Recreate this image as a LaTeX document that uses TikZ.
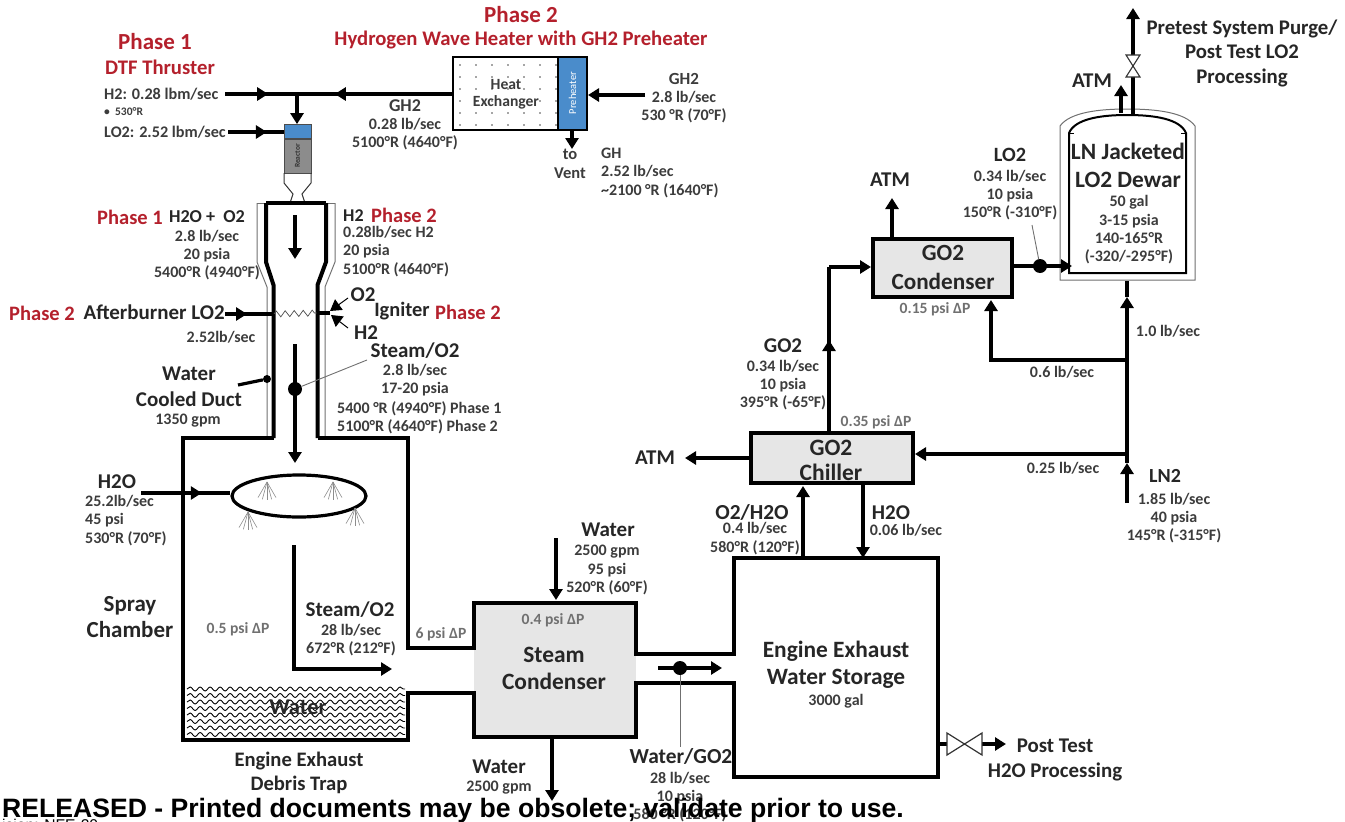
\documentclass[tikz,border=0pt]{standalone}
\usepackage{fontspec}
\setmainfont{Carlito}
\newfontfamily\footfont{Liberation Sans}
\usetikzlibrary{arrows.meta,decorations.pathmorphing,decorations.markings,shapes.geometric}
\definecolor{phasered}{HTML}{B4202C}
\definecolor{flowgray}{HTML}{3C3C3C}
\definecolor{boxgray}{HTML}{E6E6E6}
\definecolor{ductgray}{HTML}{707070}
\definecolor{burnerblue}{HTML}{4A8CCB}
\tikzset{
	pipe/.style={line width=3.2pt},
	wall/.style={line width=4pt},
	jacket/.style={line width=1pt, draw=ductgray},
	leader/.style={line width=0.9pt, draw=ductgray},
	tip/.style={-{Triangle[length=11pt,width=13pt]}},
	midtip/.style={postaction={decorate},decoration={markings,mark=at position #1 with {\arrow{Triangle[length=11pt,width=13pt]}}}},
	bigdot/.style={circle, fill=black, inner sep=0pt, minimum size=14pt},
	smalldot/.style={circle, fill=black, inner sep=0pt, minimum size=8pt},
	phase/.style={text=phasered, font=\bfseries\fontsize{23}{25}\selectfont},
	title/.style={text=phasered, font=\bfseries\fontsize{20.7}{22}\selectfont},
	tag/.style={text=black!85, font=\bfseries\fontsize{21}{26}\selectfont, align=center, inner sep=0pt},
	flow/.style={text=flowgray, font=\bfseries\fontsize{16}{18.3}\selectfont, align=center, inner sep=0pt},
	note/.style={text=ductgray, font=\bfseries\fontsize{15.6}{18}\selectfont, inner sep=0pt},
	unitbox/.style={draw=black, line width=4pt, fill=boxgray, inner sep=0pt},
	spray/.style={line width=0.6pt, draw=black!45},
}
\begin{document}
\begin{tikzpicture}[x=1pt,y=-1pt]
	\useasboundingbox (0,0) rectangle (1345,822);
	% thruster and the feed lines
	\coordinate (h2in) at (225,94);
	\coordinate (h2tee) at (297,94);
	\coordinate (lo2in) at (228,132);
	\node[draw=black!70, fill=burnerblue, line width=0.8pt, minimum width=27pt, minimum height=14pt, inner sep=0pt] (injector) at (297.5,131.5) {};
	\node[draw=black!70, fill=black!45, line width=0.8pt, minimum width=27pt, minimum height=34pt, inner sep=0pt] (reactor) at (297.5,156) {};
	\node[rotate=90, font=\bfseries\fontsize{7.5}{7.5}\selectfont, text=black!80] (reactorname) at (297.5,156) {Reactor};
	\draw[line width=1pt, black!80] (284,173) -- (284,183) -- (293,194) -- (290,203);
	\draw[line width=1pt, black!80] (311,173) -- (311,183) -- (302,194) -- (305,203);
	% heat exchanger
	\node[draw=black, line width=2pt, fill=white, minimum width=105pt, minimum height=73pt, inner sep=0pt] (exchanger) at (505.5,93.5) {};
	\foreach \row in {65,77,89,101,113,125}
		\foreach \col in {460,476,...,556}
			\fill[black!70] (\col,\row) circle (0.8pt);
	\node[font=\bfseries\fontsize{15.6}{17}\selectfont, text=flowgray, align=center] (exchangername) at (506,94) {Heat\\Exchanger};
	\node[draw=black, line width=2pt, fill=burnerblue, minimum width=29pt, minimum height=73pt, inner sep=0pt] (preheater) at (572.5,93.5) {};
	\node[rotate=90, text=white, font=\fontsize{10.5}{10.5}\selectfont] (preheatername) at (572.5,93) {Preheater};
	\coordinate (gh2in) at (645,95);
	\coordinate (vent) at (572,149);
	\draw[pipe, midtip=0.6] (h2in) -- (h2tee);
	\draw[pipe, midtip=0.756] (exchanger.west |- h2tee) -- (h2tee);
	\draw[pipe, tip] (h2tee) -- (injector.north -| h2tee);
	\draw[pipe, midtip=0.7] (lo2in) -- (injector.west |- lo2in);
	\draw[pipe, tip] (gh2in) -- (preheater.east |- gh2in);
	\draw[pipe, tip] (preheater.south -| vent) -- (vent);
	% cooled duct
	\draw[jacket] (257,203) -- (335,203);
	\draw[jacket] (257,203) -- (257,262) -- (267,287) -- (267,437);
	\draw[jacket] (335,203) -- (335,262) -- (325,287) -- (325,437);
	\draw[wall] (266,203) -- (326,203);
	\draw[wall] (266,203) -- (266,262) -- (273.5,285) -- (273.5,438);
	\draw[wall] (326,203) -- (326,262) -- (317.5,285) -- (317.5,438);
	\draw[pipe, tip] (295,215) -- (295,259);
	% afterburner and igniter
	\coordinate (burnerin) at (225,314);
	\coordinate (burnerl) at (274,314);
	\coordinate (burnerr) at (317,313);
	\coordinate (ignite) at (330,313);
	\draw[pipe, midtip=0.45] (burnerin) -- (burnerl);
	\draw[line width=0.7pt, black!70, decorate, decoration={zigzag, segment length=9pt, amplitude=3pt}] (burnerl) -- (burnerr);
	\draw[pipe] (burnerr) -- (ignite);
	\draw[line width=1pt, tip] (348,298) -- (330,311);
	\draw[line width=1pt, tip] (348,328) -- (331,315);
	% steam leg and its leaders
	\node[bigdot] (steamdot) at (295,389) {};
	\coordinate (steamtop) at (295,344);
	\coordinate (steamend) at (295,463);
	\coordinate (steamtag) at (367,360);
	\draw[pipe, tip] (steamtop) -- (steamend);
	\draw[leader] (steamdot) -- (steamtag);
	\node[smalldot] (ductdot) at (267,379) {};
	\coordinate (ducttag) at (238,385);
	\draw[pipe] (ducttag) -- (ductdot);
	% spray chamber outline with the steam condenser
	\fill[boxgray] (474,603) rectangle (636,737);
	\foreach \row in {689,695.5,...,737}
		\draw[line width=0.9pt, decorate, decoration={snake, segment length=10pt, amplitude=2pt}] (187,\row) -- (405,\row);
	\draw[wall] (273.5,438) -- (183,438) -- (183,740) -- (408,740) -- (408,693) -- (474,693) -- (474,737) -- (636,737) -- (636,683) -- (734,683) -- (734,777) -- (938,777) -- (938,558) -- (734,558) -- (734,654) -- (636,654) -- (636,603) -- (474,603) -- (474,648) -- (408,648) -- (408,438) -- (317.5,438);
	% spray ring
	\coordinate (ringin) at (141,493);
	\node[draw=black, line width=3.2pt, ellipse, minimum width=134pt, minimum height=42pt, inner sep=0pt] (ring) at (299,496) {};
	\draw[pipe, midtip=0.68] (ringin) -- (ring.west |- ringin);
	\foreach \apx/\apy in {267/482,333/482,248/512,355/508}
		\foreach \ang in {60,75,90,105,120}
			\draw[spray] (\apx,\apy) -- ++({18*cos(\ang)},{18*sin(\ang)});
	% flows through the trap and condenser
	\draw[pipe, tip] (294,545) -- (294,669) -- (392,669);
	\draw[pipe, tip] (556,538) -- (556,600);
	\draw[pipe, tip] (552,737) -- (552,801);
	\node[bigdot] (waterdot) at (680,668) {};
	\coordinate (waterin) at (658,668);
	\coordinate (waterout) at (722,668);
	\coordinate (watertag) at (680,747);
	\draw[leader] (waterdot) -- (watertag);
	\draw[pipe, tip] (waterin) -- (waterout);
	% valve to post test
	\coordinate (drain) at (938,744);
	\coordinate (drainout) at (1006,744);
	\draw[pipe] (drain) -- (947,744);
	\draw[pipe, tip] (982,744) -- (drainout);
	\draw[line width=1.2pt, black!80] (947,733) -- (982,755) -- (982,733) -- (947,755) -- cycle;
	% chiller
	\node[unitbox, minimum width=162pt, minimum height=50pt] (chiller) at (832,458) {};
	\coordinate (atmchill) at (685,458);
	\draw[pipe, tip] (chiller.west) -- (atmchill);
	\draw[pipe, tip] (803,558) -- (803,486);
	\draw[pipe, tip] (863,485) -- (863,558);
	% condenser
	\node[unitbox, minimum width=139pt, minimum height=58pt] (condenser) at (942.5,268) {};
	\coordinate (atmcond) at (892,198);
	\draw[pipe, tip] (condenser.north -| atmcond) -- (atmcond);
	\draw[pipe, midtip=0.56] (829,433) -- (829,267);
	\draw[pipe, tip] (829,267) -- (condenser.west |- 829,267);
	% dewar
	\draw[jacket, fill=white] (1060,280) -- (1060,126) .. controls (1070,112) and (1100,109) .. (1127,109) .. controls (1155,109) and (1185,112) .. (1195,126) -- (1195,280) -- cycle;
	\draw[line width=2pt] (1069,273) -- (1069,133) .. controls (1075,119) and (1100,115) .. (1127,115) .. controls (1155,115) and (1180,119) .. (1186,133) -- (1186,273) -- cycle;
	\draw[line width=1pt] (1069,133) -- (1074,133);
	\draw[line width=1pt] (1181,133) -- (1186,133);
	\node[bigdot] (lo2dot) at (1040,266) {};
	\coordinate (lo2end) at (1072,266);
	\coordinate (lo2tag) at (1032,225);
	\draw[pipe, tip] (condenser.east |- lo2end) -- (lo2end);
	\draw[leader] (lo2tag) -- (lo2dot);
	% vent lines on the dewar
	\draw[pipe, tip] (1121,113) -- (1121,85);
	\draw[pipe] (1133,115) -- (1133,77);
	\draw[pipe, tip] (1133,55) -- (1133,8);
	\draw[line width=1.1pt, black!80] (1126,55) -- (1140,55) -- (1126,77) -- (1140,77) -- cycle;
	% nitrogen feed
	\coordinate (ln2in) at (1127,503);
	\coordinate (ln2chill) at (1127,454);
	\coordinate (ln2cond) at (1127,360);
	\coordinate (ln2turn) at (991,360);
	\coordinate (ln2top) at (1127,297);
	\coordinate (ln2jacket) at (1127,281);
	\draw[pipe, tip] (ln2in) -- (1127,463);
	\draw[pipe] (1127,463) -- (ln2chill);
	\draw[pipe, tip] (ln2chill) -- (ln2top);
	\draw[pipe] (ln2top) -- (ln2jacket);
	\draw[pipe, tip] (ln2chill) -- (chiller.east |- ln2chill);
	\draw[pipe, tip] (ln2cond) -- (ln2turn) -- (991,300);
	% headings
	\node[phase] (phaseone) at (155,42) {Phase 1};
	\node[title] (dtf) at (160,67) {DTF Thruster};
	\node[phase] (phasetwo) at (521,15) {Phase 2};
	\node[title] (waveheater) at (521,40) {Hydrogen Wave Heater with GH2 Preheater};
	% labels near the thruster
	\node[flow, anchor=west, font=\bfseries\fontsize{16.2}{18}\selectfont] (h2name) at (104,94) {H2: 0.28 lbm/sec};
	\node[flow, anchor=west, font=\bfseries\fontsize{11.5}{12}\selectfont] (h2temp) at (104,112) {\textbullet\ \ 530°R};
	\node[flow, anchor=west, font=\bfseries\fontsize{16.2}{18}\selectfont] (lo2name) at (104,132) {LO2: 2.52 lbm/sec};
	\node[flow] (gh2out) at (405,125) {{\fontsize{18}{18}\selectfont GH2}\\0.28 lb/sec\\5100°R (4640°F)};
	\node[flow] (gh2feed) at (684,98) {{\fontsize{17}{18}\selectfont GH2}\\2.8 lb/sec\\530 °R (70°F)};
	\node[flow, font=\bfseries\fontsize{16.5}{18.3}\selectfont] (ventname) at (570,164) {to\\Vent};
	\node[flow, align=left, anchor=north west] (ghname) at (601,148) {GH\\2.52 lb/sec\\\textasciitilde2100 °R (1640°F)};
	% labels on the duct
	\node[phase, font=\bfseries\fontsize{20.5}{22}\selectfont] (dctone) at (130,217) {Phase 1};
	\node[tag, font=\bfseries\fontsize{18.2}{20}\selectfont] (h2oo2) at (207,217) {H2O +\ \ O2};
	\node[flow] (dctleft) at (207,255) {2.8 lb/sec\\20 psia\\5400°R (4940°F)};
	\node[tag, anchor=west, font=\bfseries\fontsize{18}{20}\selectfont] (dcth2) at (343,216) {H2};
	\node[phase, font=\bfseries\fontsize{20.5}{22}\selectfont] (dcttwo) at (404,215) {Phase 2};
	\node[flow, align=left, anchor=north west] (dctright) at (343,226) {0.28lb/sec H2\\20 psia\\5100°R (4640°F)};
	\node[phase, font=\bfseries\fontsize{20.5}{22}\selectfont] (abphase) at (42,313) {Phase 2};
	\node[tag, anchor=east] (abname) at (225,312) {Afterburner LO2};
	\node[flow] (abrate) at (221,337) {2.52lb/sec};
	\node[tag] (igo2) at (363,295) {O2};
	\node[tag] (igh2) at (366,333) {H2};
	\node[tag, font=\bfseries\fontsize{20.4}{22}\selectfont] (igname) at (402,311) {Igniter};
	\node[phase, font=\bfseries\fontsize{20.5}{22}\selectfont] (igphase) at (468,312) {Phase 2};
	\node[tag] (steamname) at (415,351) {Steam/O2};
	\node[flow, anchor=north] (steamvals) at (415,364) {2.8 lb/sec\\17-20 psia};
	\node[flow, align=left, anchor=north west] (steamtemps) at (337,401) {5400 °R (4940°F) Phase 1\\5100°R (4640°F) Phase 2};
	\node[tag] (ductname) at (189,387) {Water\\Cooled Duct};
	\node[flow] (ductrate) at (188,421) {1350 gpm};
	% labels on the trap
	\node[tag] (h2oname) at (117,482) {H2O};
	\node[flow, align=left, anchor=north west] (h2ovals) at (85,495) {25.2lb/sec\\45 psi\\530°R (70°F)};
	\node[tag, font=\bfseries\fontsize{23}{26.5}\selectfont] (sprayname) at (130,617) {Spray\\Chamber};
	\node[note] (trapdp) at (238,629) {0.5 psi ΔP};
	\node[tag] (steamout) at (350,610) {Steam/O2};
	\node[flow] (steamoutv) at (351,640) {28 lb/sec\\672°R (212°F)};
	\node[tag, font=\bfseries\fontsize{22.5}{25}\selectfont] (water) at (298,707) {Water};
	\node[tag, font=\bfseries\fontsize{20.6}{24.5}\selectfont] (trapname) at (299,773) {Engine Exhaust\\Debris Trap};
	% labels on the condenser
	\node[note] (pipedp) at (441,634) {6 psi ΔP};
	\node[note] (conddp) at (553,620) {0.4 psi ΔP};
	\node[tag, font=\bfseries\fontsize{23.4}{27}\selectfont] (condname) at (554,668) {Steam\\Condenser};
	\node[tag] (waterinname) at (608,530) {Water};
	\node[flow] (waterinvals) at (607,570) {2500 gpm\\95 psi\\520°R (60°F)};
	\node[tag] (wateroutname) at (499,767) {Water};
	\node[flow] (wateroutv) at (499,788) {2500 gpm};
	\node[tag, font=\bfseries\fontsize{21.4}{22}\selectfont] (waterqname) at (681,756) {Water/GO2};
	\node[flow] (waterqvals) at (680,797) {28 lb/sec\\10 psia\\580 °R (120°F)};
	% labels on the storage
	\node[tag, font=\bfseries\fontsize{23.4}{27}\selectfont] (storename) at (836,665) {Engine Exhaust\\Water Storage};
	\node[flow] (storevol) at (836,701) {3000 gal};
	\node[tag, font=\bfseries\fontsize{20.9}{25}\selectfont] (postname) at (1055,760) {Post Test\\H2O Processing};
	% labels on the chiller
	\node[tag, font=\bfseries\fontsize{23.5}{25}\selectfont] (chillname) at (831,460) {GO2\\Chiller};
	\node[tag] (atmleft) at (655,458) {ATM};
	\node[note] (chilldp) at (876,422) {0.35 psi ΔP};
	\node[tag, font=\bfseries\fontsize{21.4}{22}\selectfont] (mixname) at (752,512) {O2/H2O};
	\node[flow] (mixvals) at (755,538.5) {0.4 lb/sec\\580°R (120°F)};
	\node[tag] (wetname) at (891,513) {H2O};
	\node[flow] (wetrate) at (906,530) {0.06 lb/sec};
	\node[tag] (go2name) at (783,346) {GO2};
	\node[flow] (go2vals) at (783,385) {0.34 lb/sec\\10 psia\\395°R (-65°F)};
	% labels on the condenser and dewar
	\node[tag, font=\bfseries\fontsize{23.2}{29}\selectfont] (gcondname) at (943,267) {GO2\\Condenser};
	\node[note] (gconddp) at (935,309) {0.15 psi ΔP};
	\node[tag] (atmcondn) at (890,180) {ATM};
	\node[tag, font=\bfseries\fontsize{20.3}{22}\selectfont] (lo2title) at (1010,155) {LO2};
	\node[flow] (lo2vals) at (1010,195) {0.34 lb/sec\\10 psia\\150°R (-310°F)};
	\node[tag, font=\bfseries\fontsize{23.4}{28}\selectfont] (dewarname) at (1128,165) {LN Jacketed\\LO2 Dewar};
	\node[flow] (dewarvals) at (1129,230) {50 gal\\3-15 psia\\140-165°R\\(-320/-295°F)};
	\node[tag] (atmdewar) at (1092,81) {ATM};
	\node[tag, font=\bfseries\fontsize{20.8}{24.5}\selectfont] (purgename) at (1242,53) {Pretest System Purge/\\Post Test LO2\\Processing};
	\node[flow] (rateone) at (1168,331) {1.0 lb/sec};
	\node[flow] (ratesix) at (1062,372) {0.6 lb/sec};
	\node[flow] (ratequarter) at (1063,468) {0.25 lb/sec};
	\node[tag, font=\bfseries\fontsize{20}{22}\selectfont] (ln2name) at (1165,476) {LN2};
	\node[flow] (ln2vals) at (1174,518) {1.85 lb/sec\\40 psia\\145°R (-315°F)};
	% footer
	\node[anchor=base west, inner sep=0pt, font=\footfont\bfseries\fontsize{26.6}{27}\selectfont] (released) at (2,817) {RELEASED - Printed documents may be obsolete; validate prior to use.};
	\node[anchor=base west, inner sep=0pt, font=\footfont\fontsize{15.6}{16}\selectfont] (revision) at (2,830) {ision: NFE-20};
\end{tikzpicture}
\end{document}
